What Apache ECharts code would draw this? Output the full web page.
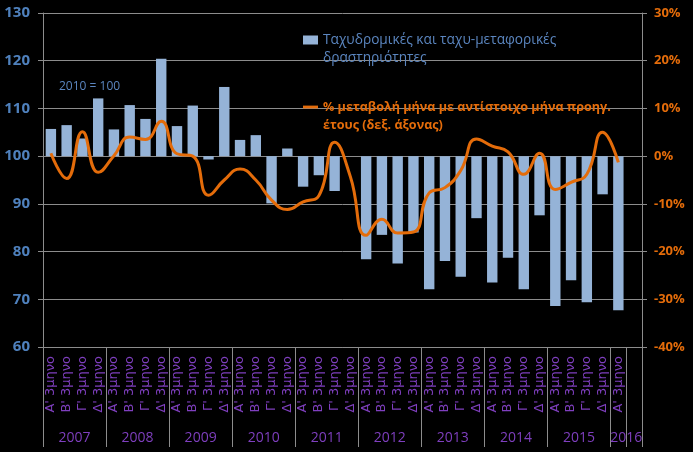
<!DOCTYPE html>
<html>
<head>
<meta charset="utf-8">
<script src="https://cdn.jsdelivr.net/npm/echarts@6/dist/echarts.min.js"></script>
<style>
html,body{margin:0;padding:0;background:#000;}
#chart{width:693px;height:452px;}
</style>
</head>
<body>
<div id="chart"></div>
<script>
const years = ['2007','2008','2009','2010','2011','2012','2013','2014','2015','2016'];
const slotsPerYear = [4,4,4,4,4,4,4,4,4,2];
const quarterNames = ["Α' 3μηνο","Β' 3μηνο","Γ' 3μηνο","Δ' 3μηνο"];

// Index (2010 = 100), left axis
const indexValues = [
  105.7, 106.5, 103.7, 112.1,
  105.6, 110.7, 107.8, 120.4,
  106.3, 110.6, 99.3, 114.5,
  103.4, 104.4, 90.1, 101.6,
  93.6, 96.0, 92.7, 100.0,
  78.4, 83.5, 77.5, 84.0,
  72.1, 78.0, 74.7, 87.0,
  73.5, 78.7, 72.1, 87.6,
  68.6, 74.0, 69.4, 92.0,
  67.7
];

// % change vs same quarter of previous year, right axis
const pctChange = [
  0.6, -4.7, 5.1, -3.4,
  0.1, 4.0, 3.5, 7.3,
  0.5, 0.0, -8.2, -5.0,
  -2.7, -5.0, -9.2, -11.2,
  -9.6, -8.3, 2.9, -4.3,
  -16.6, -13.2, -16.1, -15.9,
  -7.7, -6.6, -3.0, 3.6,
  2.1, 0.9, -3.8, 0.6,
  -7.0, -5.5, -3.8, 5.0,
  -1.3
];

const leftTicks = [60, 70, 80, 90, 100, 110, 120, 130];
const rightTicks = [-40, -30, -20, -10, 0, 10, 20, 30];
const baseIndex = 100;

const barName = 'Ταχυδρομικές και ταχυ-μεταφορικές δραστηριότητες';
const lineName = '% μεταβολή μήνα με αντίστοιχο μήνα προηγ. έτους (δεξ. άξονας)';
const legendText = {};
legendText[barName] = '\nΤαχυδρομικές και ταχυ-μεταφορικές\nδραστηριότητες';
legendText[lineName] = '\n% μεταβολή μήνα με αντίστοιχο μήνα προηγ.\nέτους (δεξ. άξονας)';

// build categories
const categories = [];
const yearCenters = new Map();
let k = 0;
years.forEach((y, yi) => {
  yearCenters.set(k + slotsPerYear[yi] / 2, y);
  for (let q = 0; q < slotsPerYear[yi]; q++) {
    categories.push(k < indexValues.length ? quarterNames[q] : '');
    k++;
  }
});
const nSlots = categories.length;

const barData = indexValues.map(v => +(v - baseIndex).toFixed(2));
const leftMin = leftTicks[0] - baseIndex, leftMax = leftTicks[leftTicks.length - 1] - baseIndex;

const grey = '#8C8C8C';
const font = 'Open Sans';

const chart = echarts.init(document.getElementById('chart'));
chart.setOption({
  backgroundColor: '#000',
  animation: false,
  textStyle: { fontFamily: font },
  grid: { left: 43, right: 51, top: 13, bottom: 105 },
  title: {
    text: '2010 = 100', left: 54, top: 76,
    textStyle: { color: '#5B86C0', fontSize: 12, fontWeight: 'normal', fontFamily: font }
  },
  legend: {
    orient: 'vertical', left: 303, top: 13, itemGap: 13, padding: 0,
    itemWidth: 15, itemHeight: 9,
    textStyle: { fontFamily: font, fontSize: 13, lineHeight: 18 },
    formatter: n => legendText[n],
    data: [
      { name: barName, icon: 'rect', textStyle: { color: '#5B86C0', fontSize: 13.7 } },
      { name: lineName, icon: 'path://M0 0H16V3H0Z', textStyle: { color: '#E46C0A', fontWeight: 'bold', fontSize: 12.6 } }
    ]
  },
  xAxis: [
    {
      type: 'category', data: categories, position: 'bottom',
      axisLine: { onZero: false, lineStyle: { color: grey } },
      axisTick: { show: true, inside: false, interval: 3, length: 100, lineStyle: { color: grey } },
      axisLabel: { interval: 0, rotate: 90, color: '#7F3FBF', fontSize: 13, margin: 9, fontFamily: 'DejaVu Sans' }
    },
    {
      type: 'value', min: 0, max: nSlots, interval: 1, position: 'bottom',
      axisLine: { show: false, onZero: false }, axisTick: { show: false }, splitLine: { show: false },
      axisLabel: {
        formatter: v => yearCenters.get(v) || '',
        margin: 84, color: '#7F3FBF', fontSize: 14, fontFamily: font
      }
    }
  ],
  yAxis: [
    {
      type: 'value', min: leftMin, max: leftMax, interval: 10, position: 'left',
      axisLine: { show: true, onZero: false, lineStyle: { color: grey } },
      axisTick: { show: true, length: 5, lineStyle: { color: grey } },
      splitLine: { lineStyle: { color: grey } },
      axisLabel: { formatter: v => String(v + baseIndex), color: '#4F81BD', fontSize: 15, fontWeight: 'bold', margin: 13, fontFamily: font }
    },
    {
      type: 'value', min: rightTicks[0], max: rightTicks[rightTicks.length - 1], interval: 10, position: 'right',
      axisLine: { show: true, onZero: false, lineStyle: { color: grey } },
      axisTick: { show: true, length: 5, lineStyle: { color: grey } },
      splitLine: { show: false },
      axisLabel: { formatter: v => v + '%', color: '#E46C0A', fontSize: 13, fontWeight: 'bold', margin: 12, fontFamily: font }
    }
  ],
  series: [
    {
      type: 'bar', name: barName, data: barData, xAxisIndex: 0, yAxisIndex: 0,
      barWidth: '66%', itemStyle: { color: '#95B3D7' }
    },
    {
      type: 'line', name: lineName, data: pctChange, xAxisIndex: 0, yAxisIndex: 1,
      smooth: 0.5, symbol: 'none', showSymbol: false,
      lineStyle: { color: '#E46C0A', width: 3 }, itemStyle: { color: '#E46C0A' }, z: 5
    }
  ]
});
</script>
</body>
</html>
